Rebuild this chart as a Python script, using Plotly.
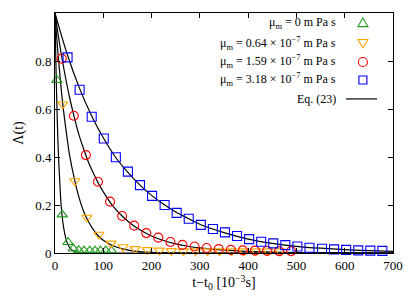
import plotly.graph_objects as go

# ---- measured data (t - t0 in 10^-3 s, Lambda(t)) ----
green_t = [4, 15, 27, 38, 49, 60, 72, 83, 94, 105, 117]
green_L = [0.72, 0.16, 0.045, 0.018, 0.012, 0.01, 0.01, 0.01, 0.01, 0.01, 0.01]

orange_t = [16, 41, 66, 91, 116, 141, 166, 191, 216, 241, 266, 291, 316, 341, 366, 391, 416, 441, 466]
orange_L = [0.62, 0.30, 0.148, 0.077, 0.04, 0.025, 0.017, 0.013, 0.011, 0.009, 0.008, 0.008, 0.008,
            0.008, 0.008, 0.008, 0.008, 0.008, 0.008]

red_t = [14, 39, 64, 89, 114, 139, 164, 189, 214, 239, 264, 289, 314, 339, 364, 389, 414, 439, 464, 489]
red_L = [0.81, 0.572, 0.408, 0.297, 0.214, 0.154, 0.114, 0.083, 0.064, 0.046, 0.034, 0.027, 0.021,
         0.016, 0.013, 0.011, 0.01, 0.009, 0.008, 0.008]

blue_t = [26, 51, 76, 101, 126, 151, 176, 201, 227, 252, 277, 302, 327, 352, 377, 402, 427, 452,
          477, 502, 527, 553, 578, 603, 628, 653, 678]
blue_L = [0.815, 0.68, 0.568, 0.477, 0.399, 0.339, 0.283, 0.238, 0.2, 0.167, 0.143, 0.117, 0.1,
          0.086, 0.071, 0.058, 0.047, 0.04, 0.033, 0.027, 0.022, 0.018, 0.015, 0.013, 0.011, 0.01, 0.009]

# ---- Eq. (23) curves ----
fitg_t = [0, 1, 2, 3, 4, 5, 6, 8, 10, 12, 15, 18, 22, 26, 30, 35, 40, 50, 60, 80, 100, 150, 700]
fitg_L = [1, 0.88, 0.78, 0.69, 0.61, 0.535, 0.47, 0.37, 0.29, 0.22, 0.15, 0.105, 0.064, 0.039,
          0.024, 0.013, 0.007, 0.002, 0.0006, 0.0001, 0, 0, 0]

fito_t = [0, 5, 10, 15, 20, 25, 30, 40, 50, 60, 70, 80, 90, 100, 120, 140, 160, 180, 200, 250, 300, 700]
fito_L = [1, 0.86, 0.745, 0.64, 0.555, 0.48, 0.41, 0.31, 0.23, 0.17, 0.128, 0.095, 0.071, 0.053,
          0.03, 0.017, 0.009, 0.005, 0.003, 0.0006, 0.0001, 0]

fitr_t = [0, 10, 20, 30, 40, 50, 60, 70, 80, 90, 100, 120, 140, 160, 180, 200, 225, 250, 275, 300,
          350, 400, 450, 500, 600, 700]
fitr_L = [1, 0.865, 0.75, 0.65, 0.565, 0.49, 0.43, 0.375, 0.33, 0.29, 0.255, 0.195, 0.152, 0.118,
          0.092, 0.071, 0.052, 0.038, 0.028, 0.021, 0.012, 0.007, 0.004, 0.002, 0.001, 0]

fitb_t = [0, 25, 50, 75, 100, 125, 150, 175, 200, 225, 250, 275, 300, 350, 400, 450, 500, 550, 600, 650, 700]
fitb_L = [1, 0.83, 0.69, 0.575, 0.48, 0.4, 0.338, 0.285, 0.24, 0.203, 0.171, 0.145, 0.12, 0.085,
          0.058, 0.04, 0.028, 0.02, 0.014, 0.01, 0.007]

x_ticks = [0, 100, 200, 300, 400, 500, 600, 700]
y_ticks = [0, 0.2, 0.4, 0.6, 0.8, 1]
y_ticklabels = ["0", "0.2", "0.4", "0.6", "0.8", "1"]

labels = ["μ<sub>m</sub> = 0 m Pa s",
          "μ<sub>m</sub> = 0.64 × 10<sup>−7</sup> m Pa s",
          "μ<sub>m</sub> = 1.59 × 10<sup>−7</sup> m Pa s",
          "μ<sub>m</sub> = 3.18 × 10<sup>−7</sup> m Pa s",
          "Eq. (23)"]

GREEN = "#1f9a1f"
ORANGE = "#ffa500"
RED = "#ff0000"
BLUE = "#0000ff"
FONT = "Liberation Serif, Times New Roman, serif"

fig = go.Figure()

for t, L in [(fitg_t, fitg_L), (fito_t, fito_L), (fitr_t, fitr_L), (fitb_t, fitb_L)]:
    fig.add_trace(go.Scatter(x=t, y=L, mode="lines", line=dict(color="black", width=1.2, shape="spline"),
                             showlegend=False, name=labels[4]))

series = [
    (green_t, green_L, "triangle-up-open", GREEN, 9, labels[0]),
    (orange_t, orange_L, "triangle-down-open", ORANGE, 9, labels[1]),
    (red_t, red_L, "circle-open", RED, 9, labels[2]),
    (blue_t, blue_L, "square-open", BLUE, 9, labels[3]),
]
for t, L, sym, col, sz, nm in series:
    fig.add_trace(go.Scatter(x=t, y=L, mode="markers", name=nm, showlegend=False, cliponaxis=False,
                             marker=dict(symbol=sym, size=sz, color=col, line=dict(color=col, width=1.1))))

# ---- manual gnuplot-style key (text right-aligned, sample to the right) ----
key_y = [0.958, 0.875, 0.796, 0.721, 0.642]
key_text_x = 0.837
key_sym_x = 0.911
for yk, lab in zip(key_y, labels):
    fig.add_annotation(x=key_text_x, y=yk, xref="paper", yref="paper", text=lab, showarrow=False,
                       xanchor="right", yanchor="middle", font=dict(family=FONT, size=12, color="black"))

s = 4.5
shapes = [
    dict(type="path", path=f"M 0 {s+0.5} L {-s-0.5} {-s+1} L {s+0.5} {-s+1} Z", line=dict(color=GREEN, width=1.1),
         xref="paper", yref="paper", xsizemode="pixel", ysizemode="pixel", xanchor=key_sym_x, yanchor=key_y[0]),
    dict(type="path", path=f"M 0 {-s-0.5} L {-s-0.5} {s-1} L {s+0.5} {s-1} Z", line=dict(color=ORANGE, width=1.1),
         xref="paper", yref="paper", xsizemode="pixel", ysizemode="pixel", xanchor=key_sym_x, yanchor=key_y[1]),
    dict(type="circle", x0=-s, x1=s, y0=-s, y1=s, line=dict(color=RED, width=1.1),
         xref="paper", yref="paper", xsizemode="pixel", ysizemode="pixel", xanchor=key_sym_x, yanchor=key_y[2]),
    dict(type="rect", x0=-s + 0.5, x1=s - 0.5, y0=-s + 0.5, y1=s - 0.5, line=dict(color=BLUE, width=1.1),
         xref="paper", yref="paper", xsizemode="pixel", ysizemode="pixel", xanchor=key_sym_x, yanchor=key_y[3]),
    dict(type="line", x0=0.861, x1=0.953, y0=key_y[4], y1=key_y[4], xref="paper", yref="paper",
         line=dict(color="black", width=1.2)),
]
fig.update_layout(shapes=shapes)

axis_common = dict(showline=True, linecolor="black", linewidth=1, mirror="allticks", ticks="inside",
                   ticklen=5, tickcolor="black", tickwidth=1, showgrid=False, zeroline=False,
                   automargin=False, tickfont=dict(family=FONT, size=13, color="black"))

fig.update_xaxes(range=[0, 700], tickvals=x_ticks, ticktext=[str(v) for v in x_ticks],
                 title=dict(text="t−t<sub>0</sub> [10<sup>−3</sup>s]", font=dict(family=FONT, size=14, color="black"),
                            standoff=4),
                 **axis_common)
fig.update_yaxes(range=[0, 1], tickvals=y_ticks, ticktext=y_ticklabels,
                 title=dict(text="Λ(t)", font=dict(family=FONT, size=14, color="black"), standoff=8),
                 **axis_common)

# the page body adds an 8 px offset; margins compensate so the plot area matches the reference
fig.update_layout(width=407, height=289, margin=dict(l=47, r=22, t=5, b=44, autoexpand=False),
                  paper_bgcolor="white", plot_bgcolor="white", font=dict(family=FONT))

fig.write_html("out.html")
